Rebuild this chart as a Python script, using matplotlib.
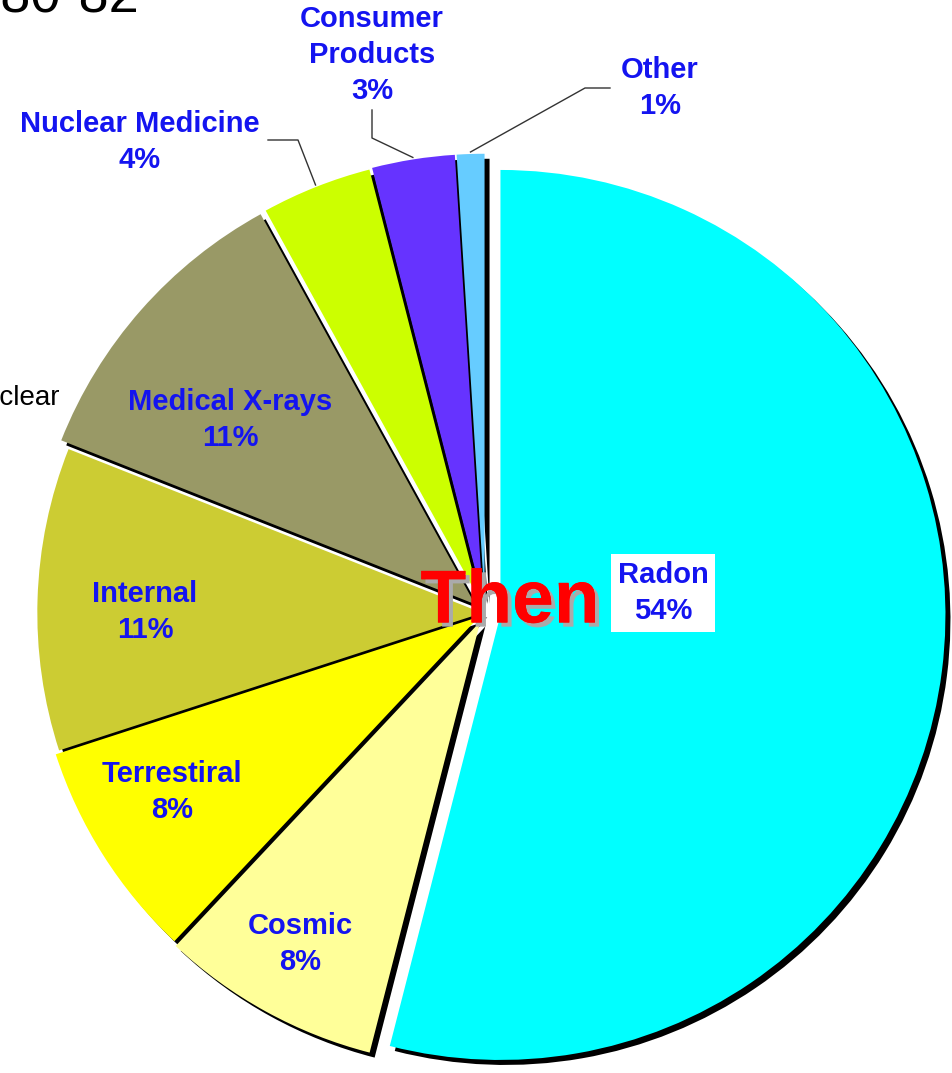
import numpy as np
import matplotlib.pyplot as plt
import matplotlib.patheffects as pe

plt.rcParams['font.family'] = ['Liberation Sans', 'DejaVu Sans']

# slices, clockwise from 12 o'clock
sources = ['Radon', 'Cosmic', 'Terrestiral', 'Internal', 'Medical X-rays',
           'Nuclear Medicine', 'Consumer Products', 'Other']
percent = [54, 8, 8, 11, 11, 4, 3, 1]
colors = ['#00FFFF', '#FFFF99', '#FFFF00', '#CCCC33', '#999966',
          '#CCFF00', '#6633FF', '#66CCFF']
explode = [0.035, 0.022, 0.016, 0.006, 0.03, 0.03, 0.032, 0.032]

W, H = 953, 1073
fig = plt.figure(figsize=(W / 100, H / 100), dpi=100)
ax = fig.add_axes([0, 0, 1, 1])

cx, cy, R = 485, H - 613, 445
BLUE = '#1414F0'
expl = [e * R for e in explode]  # pie explode is in data units

# black drop shadow under each slice
ax.pie(percent, explode=expl, colors=['black'] * len(percent),
       startangle=90, counterclock=False, radius=R,
       center=(cx + 5, cy - 5), frame=True)
wedges, _ = ax.pie(percent, explode=expl, colors=colors,
                   startangle=90, counterclock=False, radius=R,
                   center=(cx, cy), frame=True)
ax.set_xlim(0, W)
ax.set_ylim(0, H)
ax.set_aspect('equal')
ax.axis('off')


def edge_point(w, extra=0):
    a = np.deg2rad((w.theta1 + w.theta2) / 2)
    return (w.center[0] + (w.r + extra) * np.cos(a),
            w.center[1] + (w.r + extra) * np.sin(a))


# label positions in pixels from top-left
label_pos = {
    'Radon': (663, 593),
    'Cosmic': (300, 944),
    'Terrestiral': (172, 792),
    'Internal': (145, 612),
    'Medical X-rays': (230, 420),
    'Nuclear Medicine': (140, 142),
    'Consumer Products': (372, 55),
    'Other': (660, 88),
}
for name, p in zip(sources, percent):
    x, y = label_pos[name]
    txt = name if name != 'Consumer Products' else 'Consumer\nProducts'
    kw = {}
    if name == 'Radon':
        kw['bbox'] = dict(facecolor='white', edgecolor='none', pad=5)
    ax.text(x, H - y, f'{txt}\n{p}%', color=BLUE, fontsize=21,
            fontweight='bold', ha='center', va='center',
            linespacing=1.38, **kw)

# leader lines
leaders = {
    'Nuclear Medicine': [(268, 140), (298, 140)],
    'Consumer Products': [(372, 110), (372, 138)],
    'Other': [(610, 88), (585, 88)],
}
for name, pts in leaders.items():
    w = wedges[sources.index(name)]
    ex, ey = edge_point(w, 2)
    xs = [p[0] for p in pts] + [ex]
    ys = [H - p[1] for p in pts] + [ey]
    ax.plot(xs, ys, color='#333333', lw=1)

ax.text(510, H - 603, 'Then', color='red', fontsize=54, fontweight='bold',
        ha='center', va='center',
        path_effects=[pe.withSimplePatchShadow(offset=(3, -3),
                                               shadow_rgbFace='#aaaaaa',
                                               alpha=1), pe.Normal()])

# texts cut off at the figure edges
ax.text(140, H - 12, '1980-82', fontsize=39, ha='right', va='baseline',
        color='black')
ax.text(60, H - 405, 'Nuclear', fontsize=20, ha='right', va='baseline',
        color='black')

fig.savefig('out.png', dpi=100)
